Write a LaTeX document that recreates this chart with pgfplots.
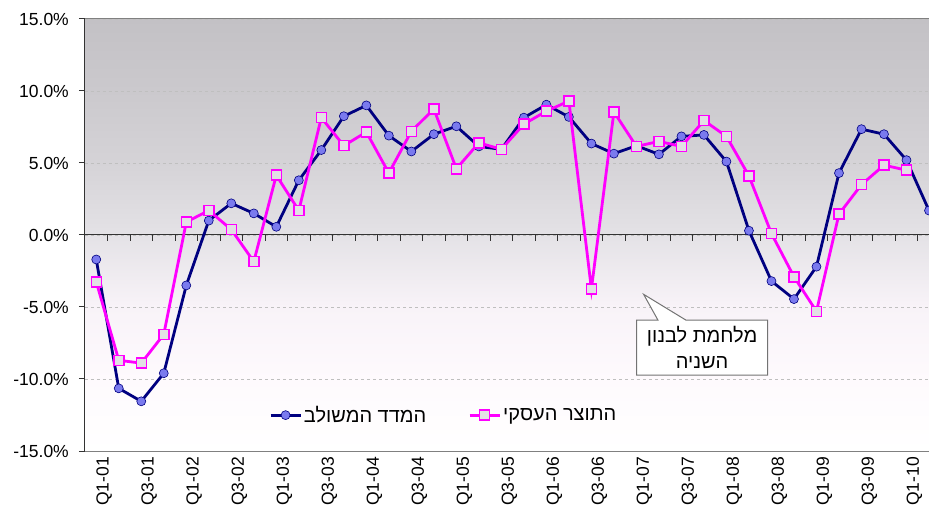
\documentclass[border=0pt]{standalone}
\usepackage{fontspec}
\setmainfont{Liberation Sans}
\newfontfamily\hebfont[Script=Hebrew]{Liberation Sans}
\TeXXeTstate=1
\usepackage{pgfplots}
\pgfplotsset{compat=1.18}
\usepackage{pgfplotstable}
\usetikzlibrary{shapes.callouts}

\definecolor{navyline}{RGB}{0,0,128}
\definecolor{bluefill}{RGB}{122,122,238}
\definecolor{mag}{RGB}{255,0,255}
\definecolor{sqfill}{RGB}{226,224,228}
\definecolor{bgtop}{RGB}{195,193,197}
\definecolor{bgten}{RGB}{203,201,205}
\definecolor{bgfive}{RGB}{213,211,215}
\definecolor{bgzero}{RGB}{228,226,230}
\definecolor{bgmfive}{RGB}{248,243,248}
\definecolor{bgmten}{RGB}{254,250,253}
\pgfdeclareverticalshading{plotbg}{100bp}{color(0bp)=(white); color(25bp)=(white); color(33.3bp)=(bgmten); color(41.7bp)=(bgmfive); color(50bp)=(bgzero); color(58.3bp)=(bgfive); color(66.7bp)=(bgten); color(75bp)=(bgtop); color(100bp)=(bgtop)}

\pgfplotstableread{
x y
0 -1.7
1 -10.65
2 -11.55
3 -9.6
4 -3.5
5 1.0
6 2.2
7 1.5
8 0.57
9 3.8
10 5.9
11 8.25
12 9.0
13 6.9
14 5.8
15 7.0
16 7.55
17 6.15
18 5.95
19 8.15
20 9.05
21 8.2
22 6.35
23 5.65
24 6.2
25 5.6
26 6.85
27 6.95
28 5.1
29 0.3
30 -3.2
31 -4.45
32 -2.2
33 4.3
34 7.35
35 7.0
36 5.2
37 1.7
}\combined

\pgfplotstableread{
x y
0 -3.25
1 -8.7
2 -8.9
3 -6.9
4 0.9
5 1.7
6 0.38
7 -1.85
8 4.15
9 1.7
10 8.15
11 6.2
12 7.15
13 4.3
14 7.2
15 8.75
16 4.6
17 6.4
18 5.95
19 7.7
20 8.6
21 9.3
22 -3.75
23 8.55
24 6.15
25 6.5
26 6.15
27 7.95
28 6.85
29 4.1
30 0.1
31 -2.9
32 -5.3
33 1.45
34 3.5
35 4.85
36 4.5
}\business

\begin{document}
\begin{tikzpicture}
\begin{axis}[
  scale only axis,
  width=844bp, height=432bp,
  xmin=-0.5, xmax=37,
  ymin=-15, ymax=15,
  axis x line*=bottom,
  axis y line*=left,
  x axis line style={-, draw=gray, line width=1bp},
  y axis line style={-, draw=black!80, line width=1bp},
  axis background/.style={shade, shading=plotbg},
  clip marker paths=true,
  tick align=outside,
  major tick length=6bp,
  xtick={0,2,...,36},
  xticklabels={Q1-01,Q3-01,Q1-02,Q3-02,Q1-03,Q3-03,Q1-04,Q3-04,Q1-05,Q3-05,Q1-06,Q3-06,Q1-07,Q3-07,Q1-08,Q3-08,Q1-09,Q3-09,Q1-10},
  xtick style={draw=none},
  x tick label style={rotate=90, anchor=east, inner sep=0pt, yshift=-8bp},
  ytick={-15,-10,...,15},
  ytick style={draw=black!80, line width=1bp},
  y tick label style={inner sep=0pt, xshift=-10bp},
  yticklabel={\pgfmathprintnumber[fixed,fixed zerofill,precision=1]{\tick}\%},
  /pgf/number format/assume math mode=true,
  tick label style={font=\fontsize{17.5bp}{21bp}\selectfont},
  ymajorgrids,
  major grid style={draw=black!25, dash pattern=on 3bp off 3bp, line width=0.8bp},
  legend style={draw=none, fill=none, at={(0.218,0.083)}, anchor=west,
    font=\hebfont\fontsize{20bp}{24bp}\selectfont, inner sep=0pt,
    /tikz/every even column/.append style={column sep=40bp}},
  legend columns=2,
  legend cell align=left,
  legend image code/.code={\draw[mark repeat=2,mark phase=2,#1] plot coordinates {(0bp,0bp) (15bp,0bp) (30bp,0bp)};},
]
\draw[black!80, line width=1bp] (axis cs:-0.5,0) -- (axis cs:37,0);
\pgfplotsinvokeforeach{0.5,1.5,...,36.5}{\draw[black!80, line width=1bp] (axis cs:#1,0) -- ([yshift=-6bp]axis cs:#1,0);}
\draw[gray, line width=1bp] (rel axis cs:0,1) -- (rel axis cs:1,1);

\addplot[navyline, line width=2.8bp, mark=*, mark size=4.5bp,
  mark options={fill=bluefill, draw=navyline, line width=0.6bp}] table[x=x,y=y] {\combined};
\addlegendentry{\beginR המדד המשולב\endR}
\addplot[mag, line width=2.8bp, mark=square*, mark size=5bp,
  mark options={fill=sqfill, draw=mag, line width=1.5bp}] table[x=x,y=y] {\business};
\addlegendentry{\beginR התוצר העסקי\endR}

\node[rectangle callout, draw=black!55, fill=white, line width=1bp,
  minimum width=131bp, minimum height=55bp, inner sep=2bp, align=center,
  font=\hebfont\fontsize{20bp}{26bp}\selectfont,
  callout absolute pointer={(axis cs:24.32,-4.12)}, callout pointer width=28bp]
  at (axis cs:26.92,-7.82) {\beginR מלחמת לבנון\endR\\\beginR השניה\endR};
\end{axis}
\pgfresetboundingbox
\path[use as bounding box] ([xshift=-85bp,yshift=-69bp]current axis.south west) rectangle ([yshift=19bp]current axis.north east);
\end{tikzpicture}
\end{document}
